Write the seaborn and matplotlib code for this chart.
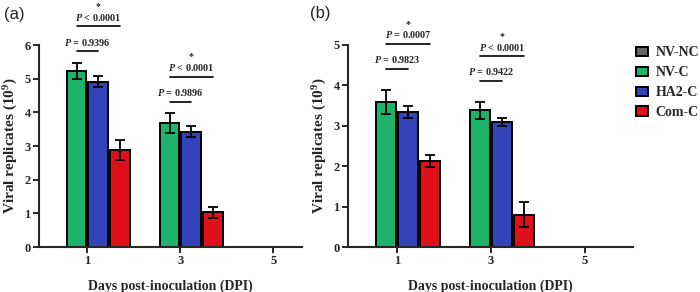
import numpy as np
import pandas as pd
import matplotlib
matplotlib.use("Agg")
import matplotlib.pyplot as plt
from matplotlib.patches import Patch
import seaborn as sns

# data
days = [1, 3, 5]
groups = ["NV-NC", "NV-C", "HA2-C", "Com-C"]
colors = ["#666666", "#1db36a", "#3344bb", "#e0101a"]

# panel (a)
a_nvnc = [0, 0, 0]
a_nvc = [5.23, 3.68, 0]
a_ha2 = [4.91, 3.43, 0]
a_com = [2.88, 1.03, 0]
a_nvnc_sd = [0, 0, 0]
a_nvc_sd = [0.25, 0.30, 0]
a_ha2_sd = [0.17, 0.16, 0]
a_com_sd = [0.30, 0.16, 0]
a_p_near = ["0.9396", "0.9896"]
a_p_far = ["< 0.0001", "< 0.0001"]

# panel (b)
b_nvnc = [0, 0, 0]
b_nvc = [3.59, 3.38, 0]
b_ha2 = [3.33, 3.08, 0]
b_com = [2.13, 0.80, 0]
b_nvnc_sd = [0, 0, 0]
b_nvc_sd = [0.30, 0.21, 0]
b_ha2_sd = [0.15, 0.10, 0]
b_com_sd = [0.15, 0.30, 0]
b_p_near = ["0.9823", "0.9422"]
b_p_far = ["= 0.0007", "< 0.0001"]

sns.set_style("ticks")
plt.rcParams["font.family"] = ["Liberation Serif", "DejaVu Serif"]
plt.rcParams["font.weight"] = "bold"
plt.rcParams["mathtext.fontset"] = "custom"
plt.rcParams["mathtext.bfit"] = "Liberation Serif:italic:bold"
plt.rcParams["mathtext.it"] = "Liberation Serif:italic:bold"
plt.rcParams["mathtext.rm"] = "Liberation Serif:bold"


def make_df(vals, sds):
    rows = []
    for g, v, s in zip(groups, vals, sds):
        for d, vv, ss in zip(days, v, s):
            rows.append({"DPI": d, "group": g, "value": vv, "sd": ss})
    return pd.DataFrame(rows)


def draw(ax, df, ymax, xmax, pnear, pfar, g1, g2, label):
    sns.barplot(data=df, x="DPI", y="value", hue="group", hue_order=groups,
                palette=colors, saturation=1, native_scale=True, width=0.93,
                gap=0.1, edgecolor="black", linewidth=1.4, errorbar=None,
                legend=False, ax=ax)
    # error bars at bar centres (bars sorted by x: day then group order)
    bars = sorted(ax.patches, key=lambda p: p.get_x())
    srt = df.sort_values(["DPI", "group"], key=lambda c: c.map(
        {g: i for i, g in enumerate(groups)}) if c.name == "group" else c)
    xs = np.array([b.get_x() + b.get_width() / 2 for b in bars])
    ys = srt["value"].to_numpy()
    es = srt["sd"].to_numpy()
    m = es > 0
    ax.errorbar(xs[m], ys[m], yerr=es[m], fmt="none", ecolor="black",
                elinewidth=1.3, capsize=3.8, capthick=1.3, zorder=5)

    # comparison lines
    n = len(groups)
    for k in range(2):
        i0 = k * n
        xg, xb, xr = xs[i0 + 1], xs[i0 + 2], xs[i0 + 3]
        top = max(ys[i0 + 1] + es[i0 + 1], ys[i0 + 2] + es[i0 + 2])
        y1 = top + g1
        y2 = y1 + g2
        ax.plot([xg, xb], [y1, y1], color="black", lw=1.2, clip_on=False)
        ax.plot([xg, xr], [y2, y2], color="black", lw=1.2, clip_on=False)
        ax.annotate(r"$\mathbfit{P}$ = " + pnear[k], ((xg + xb) / 2, y1),
                    xytext=(0, 2.5), textcoords="offset points",
                    ha="center", va="bottom", fontsize=7.3,
                    fontweight="bold", annotation_clip=False)
        ax.annotate(r"$\mathbfit{P}$ " + pfar[k], ((xg + xr) / 2, y2),
                    xytext=(0, 2.5), textcoords="offset points",
                    ha="center", va="bottom", fontsize=7.3,
                    fontweight="bold", annotation_clip=False)
        ax.annotate("*", ((xg + xr) / 2, y2), xytext=(0, 11),
                    textcoords="offset points", ha="center", va="bottom",
                    fontsize=7, fontweight="bold", annotation_clip=False)

    ax.set_xlim(-0.04, xmax)
    ax.set_ylim(0, ymax)
    ax.set_xticks(days)
    ax.set_yticks(range(0, ymax + 1))
    ax.set_xlabel("Days post-inoculation (DPI)", fontsize=10,
                  fontweight="bold", labelpad=9)
    ax.set_ylabel(r"Viral replicates (10$^{9}$)", fontsize=11,
                  fontweight="bold", labelpad=3)
    ax.tick_params(axis="both", length=4, width=1.4, labelsize=9, pad=2)
    for lab in ax.get_xticklabels() + ax.get_yticklabels():
        lab.set_fontweight("bold")
    for s in ["left", "bottom"]:
        ax.spines[s].set_linewidth(1.5)
    sns.despine(ax=ax)
    ax.text(-0.135, 1.19, label, transform=ax.transAxes, fontsize=12,
            family="Liberation Sans", fontweight="normal", va="top")


fig = plt.figure(figsize=(7, 2.92), dpi=100)
ax_a = fig.add_axes([39 / 700, 45 / 292, 262.7 / 700, 202 / 292])
ax_b = fig.add_axes([348 / 700, 45 / 292, 285 / 700, 202.3 / 292])

df_a = make_df([a_nvnc, a_nvc, a_ha2, a_com],
               [a_nvnc_sd, a_nvc_sd, a_ha2_sd, a_com_sd])
df_b = make_df([b_nvnc, b_nvc, b_ha2, b_com],
               [b_nvnc_sd, b_nvc_sd, b_ha2_sd, b_com_sd])

draw(ax_a, df_a, 6, 5.61, a_p_near, a_p_far, 0.34, 0.74, "(a)")
draw(ax_b, df_b, 5, 6.02, b_p_near, b_p_far, 0.52, 0.61, "(b)")

handles = [Patch(facecolor=c, edgecolor="black", linewidth=1.4) for c in colors]
fig.legend(handles, groups, loc="upper left", bbox_to_anchor=(0.909, 0.842),
           frameon=False, handlelength=0.85, handleheight=0.65,
           handletextpad=0.55, labelspacing=0.5, borderpad=0,
           borderaxespad=0,
           prop={"family": "Liberation Serif", "weight": "bold", "size": 10})

fig.savefig("out.png", dpi=100)
